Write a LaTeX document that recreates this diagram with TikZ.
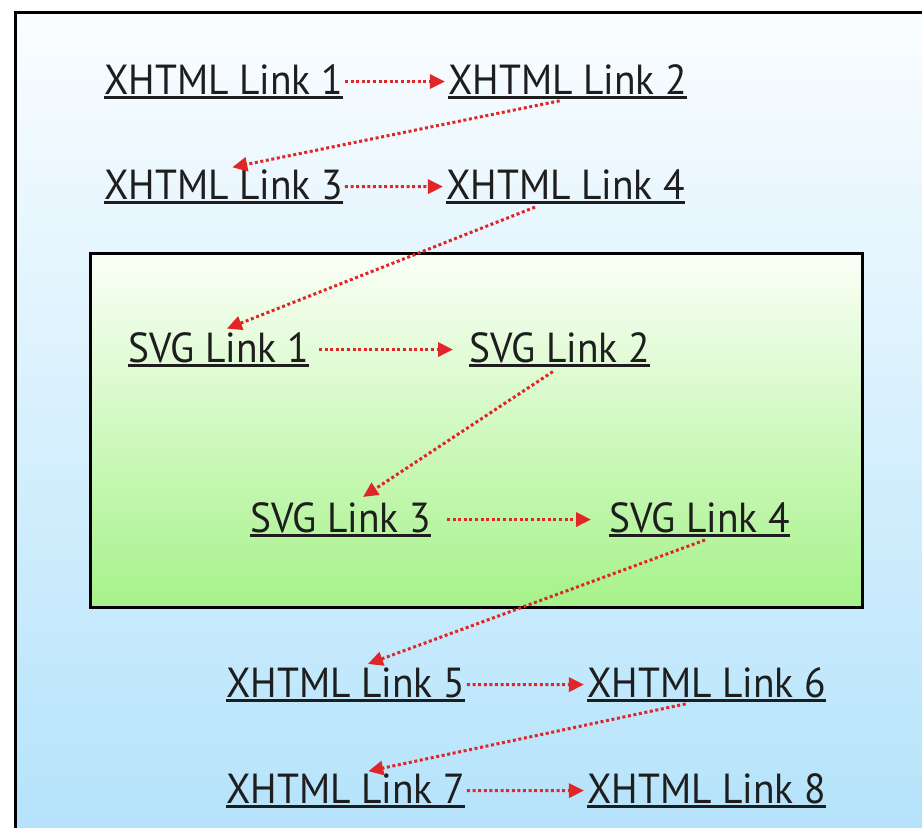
\documentclass[tikz,border=0pt]{standalone}
\usepackage{fontspec}
\setmainfont[FakeStretch=0.94]{PT Sans}
\usetikzlibrary{positioning,calc,arrows.meta}

\definecolor{skytop}{HTML}{FAFDFF}
\definecolor{skybot}{HTML}{B5E3FB}
\definecolor{leaftop}{HTML}{FBFFF7}
\definecolor{leafbot}{HTML}{A6F28A}
\definecolor{hopred}{HTML}{E02626}
\definecolor{ink}{HTML}{1E1E1E}

% underlined link text
\newcommand{\lnk}[1]{\setbox0\hbox{#1}\rlap{\rule[-5pt]{\wd0}{2.8pt}}\box0}

\tikzset{
  link/.style={inner sep=0pt, anchor=base west, text=ink,
    font=\fontsize{42}{42}\selectfont},
  hop/.style={hopred, line width=3pt, dash pattern=on 3pt off 2.6pt,
    -{Triangle[length=15pt,width=14pt]}, shorten <=2pt, shorten >=3pt},
  jump/.style={hop, shorten <=8pt, shorten >=9pt},
}

\begin{document}
\begin{tikzpicture}[x=1pt,y=-1pt]
  \useasboundingbox (0,0) rectangle (922,828);
  \clip (0,0) rectangle (922,828);
  \fill[white] (0,0) rectangle (922,828);
  \shade[top color=skytop, bottom color=skybot] (15,12) rectangle (940,828);
  \draw[line width=3pt] (15,850) -- (15,12) -- (940,12);
  \shade[top color=leaftop, bottom color=leafbot] (90,253) rectangle (862,607);
  \draw[line width=3pt] (90,253) rectangle (862,607);

  \node[link] (x1) at (104,94) {\lnk{XHTML Link 1}};
  \node[link, right=105pt of x1.base east, anchor=base west] (x2) {\lnk{XHTML Link 2}};
  \node[link] (x3) at (104,199) {\lnk{XHTML Link 3}};
  \node[link, right=103pt of x3.base east, anchor=base west] (x4) {\lnk{XHTML Link 4}};

  \node[link] (s1) at (128,362) {\lnk{SVG Link 1}};
  \node[link, right=160pt of s1.base east, anchor=base west] (s2) {\lnk{SVG Link 2}};
  \node[link] (s3) at (250,532) {\lnk{SVG Link 3}};
  \node[link, right=178pt of s3.base east, anchor=base west] (s4) {\lnk{SVG Link 4}};

  \node[link] (x5) at (226,697) {\lnk{XHTML Link 5}};
  \node[link, right=122pt of x5.base east, anchor=base west] (x6) {\lnk{XHTML Link 6}};
  \node[link] (x7) at (226,803) {\lnk{XHTML Link 7}};
  \node[link, right=122pt of x7.base east, anchor=base west] (x8) {\lnk{XHTML Link 8}};

  \draw[hop] (x1) -- (x2);
  \draw[jump] (x2.south) -- (x3.north);
  \draw[hop] (x3) -- (x4);
  \draw[jump] ([xshift=-23pt]x4.south) -- (s1.north);
  \draw[hop, shorten <=10pt, shorten >=16pt] (s1) -- (s2);
  \draw[jump] (s2.south) -- ([xshift=15pt]s3.north);
  \draw[hop, shorten <=16pt, shorten >=18pt] (s3) -- (s4);
  \draw[jump] ([xshift=13pt]s4.south) -- ([xshift=14pt]x5.north);
  \draw[hop] (x5) -- (x6);
  \draw[jump] ([xshift=-13pt]x6.south) -- ([xshift=14pt]x7.north);
  \draw[hop] (x7) -- (x8);
\end{tikzpicture}
\end{document}
